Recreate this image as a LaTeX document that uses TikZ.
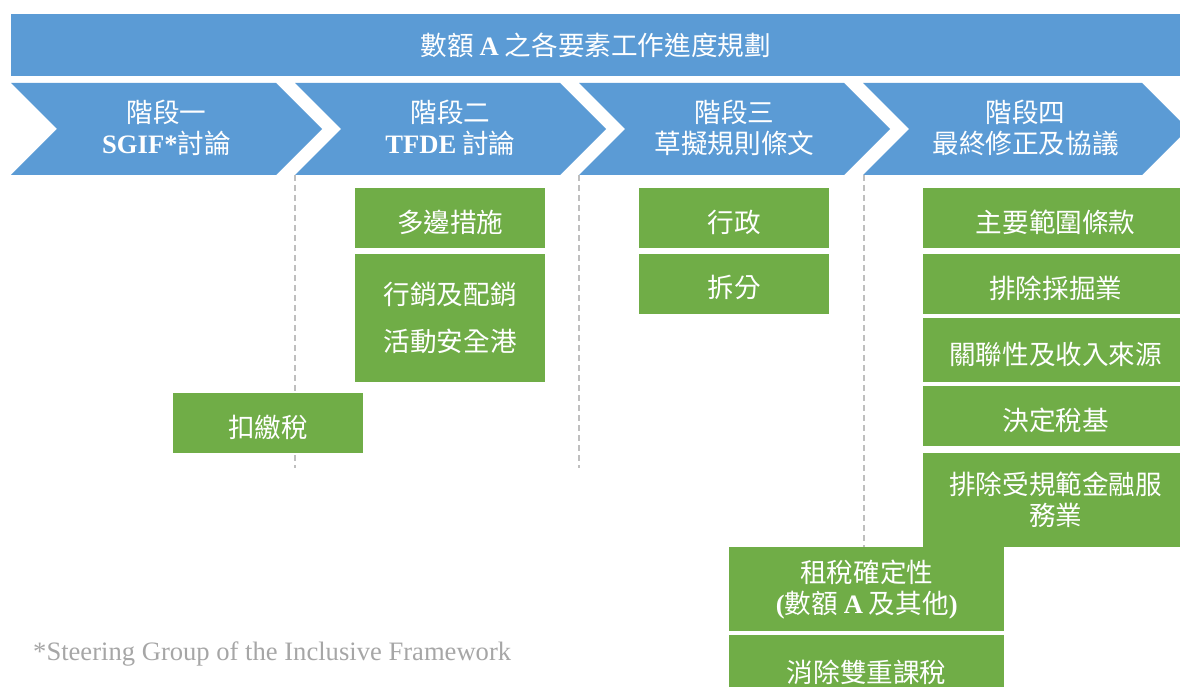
\documentclass[tikz,border=0pt]{standalone}
\usepackage{fontspec}
\setmainfont{Liberation Serif}
\newfontfamily\cjk{Noto Sans CJK TC}
\usetikzlibrary{positioning}

\definecolor{stageblue}{HTML}{5B9BD5}
\definecolor{taskgreen}{HTML}{70AD47}
\definecolor{notegray}{HTML}{A6A6A6}
\definecolor{guidegray}{HTML}{BFBFBF}

\newcommand\latb[1]{{\rmfamily\bfseries #1}}

\tikzset{
  stagetext/.style={text=white, align=center, inner sep=0pt,
    font=\fontsize{26.6}{31}\selectfont\cjk},
  task/.style={fill=taskgreen, text=white, align=center, inner sep=0pt,
    font=\fontsize{26.6}{31}\selectfont\cjk, minimum width=190pt, minimum height=60pt,
    execute at begin node={\rule{0pt}{31pt}}},
  guide/.style={draw=guidegray, line width=1.3pt, dash pattern=on 6pt off 4pt},
}

\begin{document}
\begin{tikzpicture}[x=1pt, y=-1pt]
    \useasboundingbox (0,0) rectangle (1180,687);
    \clip (0,0) rectangle (1180,687);

    % banner
    \node[fill=stageblue, stagetext, minimum width=1169pt, minimum height=62pt,
        anchor=north west] (banner) at (11,14)
        {數額 \latb{A} 之各要素工作進度規劃};

    % chevrons
    \foreach \x/\w in {11/265, 295/265, 579/265, 863/279}
        \fill[stageblue] (\x,83) -- ++(\w,0) -- ++(46,46) -- ++(-46,46)
            -- ++(-\w,0) -- ++(46,-46) -- cycle;

    \node[stagetext] (stage1) at (166.5,128) {階段一\\\latb{SGIF*}討論};
    \node[stagetext] (stage2) at (450.5,128) {階段二\\\latb{TFDE} 討論};
    \node[stagetext] (stage3) at (734.5,128) {階段三\\草擬規則條文};
    \node[stagetext] (stage4) at (1025.5,128) {階段四\\最終修正及協議};

    % guides
    \coordinate (g1top) at (295,175);
    \coordinate (g1end) at (295,468);
    \coordinate (g2top) at (579,175);
    \coordinate (g2end) at (579,468);
    \coordinate (g3top) at (864,175);
    \coordinate (g3end) at (864,640);
    \draw[guide] (g1top) -- (g1end);
    \draw[guide] (g2top) -- (g2end);
    \draw[guide] (g3top) -- (g3end);

    % stage 2
    \node[task, anchor=north west] (multi) at (355,188) {多邊措施};
    \node[task, minimum height=128pt, below=5pt of multi] (marketing)
        {行銷及配銷\\[16pt]活動安全港};
    \node[task, anchor=north west] (withhold) at (173,393) {扣繳稅};

    % stage 3
    \node[task, anchor=north west] (admin) at (639,188) {行政};
    \node[task, below=5pt of admin] (segment) {拆分};

    % stage 4
    \node[task, minimum width=265pt, anchor=north west] (scope) at (923,188) {主要範圍條款};
    \node[task, minimum width=265pt, below=5pt of scope] (extract) {排除採掘業};
    \node[task, minimum width=265pt, minimum height=64pt, below=4pt of extract] (nexus) {關聯性及收入來源};
    \node[task, minimum width=265pt, below=4pt of nexus] (taxbase) {決定稅基};
    \node[task, minimum width=265pt, minimum height=94pt, below=6pt of taxbase] (finserv)
        {排除受規範金融服\\務業};

    \node[task, minimum width=275pt, minimum height=84pt, anchor=north west] (certainty)
        at (729,547) {租稅確定性\\\latb{(}數額 \latb{A}\ 及其他\latb{)}};
    \node[task, minimum width=275pt, minimum height=68pt, below=3pt of certainty] (dtax)
        {消除雙重課稅};

    % footnote
    \node[anchor=base west, inner sep=0pt, text=notegray,
        font=\fontsize{26.6}{31}\selectfont] (note) at (33,660)
        {*Steering Group of the Inclusive Framework};
\end{tikzpicture}
\end{document}
